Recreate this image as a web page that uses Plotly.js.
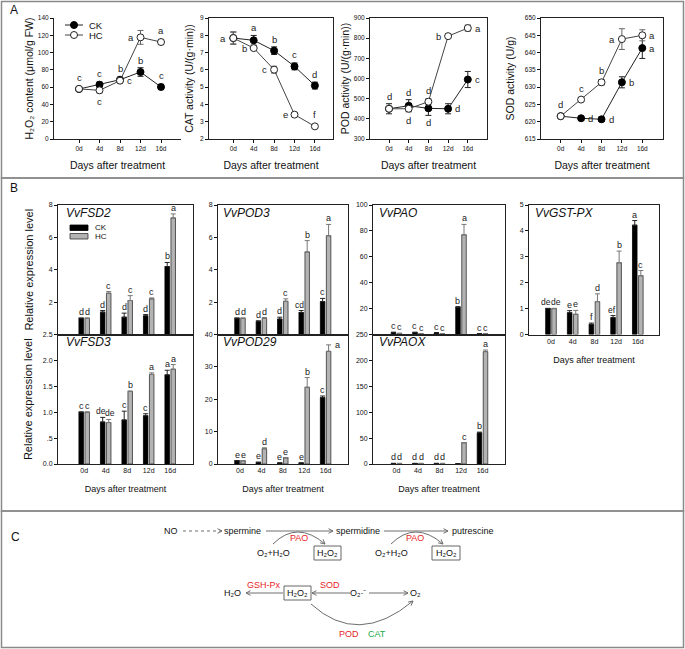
<!DOCTYPE html>
<html><head><meta charset="utf-8">
<script src="https://cdn.plot.ly/plotly-3.0.1.min.js"></script>
<style>body{margin:0;padding:0;background:#fff}#chart{width:685px;height:649px}</style>
</head><body><div id="chart"></div>
<script>
// ---------------- DATA ----------------
const days = ["0d","4d","8d","12d","16d"];
const groups = ["CK","HC"];

// Panel A
const h2o2_CK = [57.8, 62.9, 68.6, 77.5, 60.2];
const h2o2_CK_err = [2, 3, 3, 5, 3];
const h2o2_HC = [58.0, 56.3, 67.5, 117.6, 112.2];
const h2o2_HC_err = [2, 3, 3, 8, 3];
const h2o2_CK_sig = ["c","c","b","b","c"];
const h2o2_HC_sig = ["","c","c","a","a"];

const cat_CK = [7.84, 7.71, 7.11, 6.20, 5.09];
const cat_CK_err = [0.35, 0.28, 0.22, 0.2, 0.2];
const cat_HC = [7.84, 7.26, 6.01, 3.41, 2.73];
const cat_HC_err = [0.35, 0.1, 0.2, 0.1, 0.05];
const cat_CK_sig = ["","a","b","c","d"];
const cat_HC_sig = ["a","b","c","e","f"];

const pod_CK = [450, 465, 452, 450, 595];
const pod_CK_err = [25, 30, 35, 25, 40];
const pod_HC = [450, 450, 485, 810, 850];
const pod_HC_err = [10, 8, 15, 10, 15];
const pod_CK_sig = ["d","d","d","d","c"];
const pod_HC_sig = ["","d","d","b","a"];

const sod_CK = [621.6, 621.0, 620.7, 631.4, 641.3];
const sod_CK_err = [0.4, 0.6, 0.6, 1.6, 3.0];
const sod_HC = [621.6, 626.4, 631.4, 643.9, 645.0];
const sod_HC_err = [0.4, 0.5, 0.8, 3.0, 1.6];
const sod_CK_sig = ["","d","d","b","a"];
const sod_HC_sig = ["d","c","b","a","a"];

// Panel B (relative expression)
const fsd2_CK = [1.0, 1.38, 1.07, 1.15, 4.2];
const fsd2_CK_err = [0.02, 0.1, 0.25, 0.08, 0.25];
const fsd2_HC = [1.0, 2.55, 2.1, 2.2, 7.2];
const fsd2_HC_err = [0.02, 0.1, 0.3, 0.06, 0.25];
const fsd2_CK_sig = ["d","d","d","d","b"];
const fsd2_HC_sig = ["d","c","c","c","a"];

const fsd3_CK = [1.0, 0.81, 0.85, 0.93, 1.72];
const fsd3_CK_err = [0.005, 0.09, 0.17, 0.04, 0.09];
const fsd3_HC = [1.0, 0.80, 1.40, 1.73, 1.83];
const fsd3_HC_err = [0.005, 0.06, 0.01, 0.03, 0.09];
const fsd3_CK_sig = ["c","de","c","c","a"];
const fsd3_HC_sig = ["c","de","b","a","a"];

const pod3_CK = [1.0, 0.8, 0.95, 1.36, 2.03];
const pod3_CK_err = [0.02, 0.05, 0.12, 0.12, 0.2];
const pod3_HC = [1.0, 1.0, 2.05, 5.1, 6.1];
const pod3_HC_err = [0.02, 0.05, 0.15, 0.7, 0.7];
const pod3_CK_sig = ["d","d","d","cd","c"];
const pod3_HC_sig = ["d","d","c","b","a"];

const pod29_CK = [1.0, 0.5, 0.3, 0.3, 20.5];
const pod29_CK_err = [0.05, 0.05, 0.05, 0.05, 0.5];
const pod29_HC = [1.0, 4.7, 1.9, 23.7, 34.8];
const pod29_HC_err = [0.05, 0.3, 0.1, 3.0, 2.0];
const pod29_CK_sig = ["e","e","e","e","c"];
const pod29_HC_sig = ["e","d","e","b","a"];

const pao_CK = [1.5, 1.5, 1.2, 21, 0.5];
const pao_CK_err = [0.3, 0.3, 0.3, 0.5, 0.2];
const pao_HC = [0.8, 0.5, 0.4, 77, 0.5];
const pao_HC_err = [0.2, 0.2, 0.2, 8, 0.2];
const pao_CK_sig = ["c","c","c","b","c"];
const pao_HC_sig = ["c","c","c","a","c"];

const paox_CK = [1, 1, 1, 0.5, 60];
const paox_CK_err = [0.3, 0.3, 0.3, 0.2, 1.5];
const paox_HC = [1, 1, 1, 41, 217];
const paox_HC_err = [0.3, 0.3, 0.3, 0.5, 3];
const paox_CK_sig = ["d","d","d","","b"];
const paox_HC_sig = ["d","d","d","c","a"];

const gst_CK = [1.0, 0.84, 0.39, 0.65, 4.22];
const gst_CK_err = [0.01, 0.08, 0.05, 0.08, 0.18];
const gst_HC = [1.0, 0.78, 1.27, 2.77, 2.27];
const gst_HC_err = [0.01, 0.15, 0.3, 0.45, 0.2];
const gst_CK_sig = ["de","e","f","ef","a"];
const gst_HC_sig = ["de","e","d","b","c"];

// ---------------- LAYOUT HELPERS ----------------
const W = 685, H = 649;
const PX = x => x / W, PY = y => 1 - y / H;
const FONT = "Arial, 'Liberation Sans', Helvetica, sans-serif";
const idx = days.map((d, i) => i);

// subplot geometry (pixels): left, right, top, bottom, x of first category, category spacing
const geo = {
  1: {l:54, r:181, t:18, b:139, p0:79, s:20.5, yr:[0,140], tv:[0,20,40,60,80,100,120,140], box:false},
  2: {l:209, r:333, t:18, b:139, p0:233.3, s:20.4, yr:[2,9], tv:[2,3,4,5,6,7,8,9], box:true},
  3: {l:370, r:487, t:18, b:139, p0:389, s:19.7, yr:[300,900], tv:[300,400,500,600,700,800,900], box:true},
  4: {l:541, r:663, t:18, b:139, p0:560.7, s:20.4, yr:[615,650], tv:[615,620,625,630,635,640,645,650], box:true},
  5: {l:58, r:193, t:205, b:334.5, p0:84.2, s:21.5, yr:[0,8], tv:[2,4,6,8], box:true, top:true},
  6: {l:58, r:193, t:334.5, b:464, p0:84.2, s:21.5, yr:[0,2.5], tv:[0,0.5,1,1.5,2,2.5], tt:["0.0",".5","1.0","1.5","2.0","2.5"], box:true},
  7: {l:218, r:348, t:205, b:334.5, p0:240, s:21.4, yr:[0,8], tv:[2,4,6,8], box:true, top:true},
  8: {l:218, r:348, t:334.5, b:464, p0:240, s:21.4, yr:[0,40], tv:[0,10,20,30,40], box:true},
  9: {l:373, r:505, t:205, b:334.5, p0:396.5, s:21.5, yr:[0,100], tv:[20,40,60,80,100], box:true, top:true},
  10:{l:373, r:505, t:334.5, b:464, p0:396.5, s:21.5, yr:[0,250], tv:[0,50,100,150,200,250], box:true},
  11:{l:529, r:659, t:205, b:334.5, p0:551, s:21.7, yr:[0,5], tv:[0,1,2,3,4,5], box:true}
};

const layout = {
  width: W, height: H, margin: {l:0, r:0, t:0, b:0},
  paper_bgcolor: '#ffffff', plot_bgcolor: 'rgba(0,0,0,0)',
  showlegend: false, font: {family: FONT, color: '#111', size: 9},
  barmode: 'group', bargap: 0.44, bargroupgap: 0.25,
  shapes: [], annotations: []
};

Object.keys(geo).forEach(k => {
  const g = geo[k], n = +k;
  const xs = n === 1 ? '' : n, isA = n <= 4;
  layout['xaxis' + xs] = {
    domain: [PX(g.l), PX(g.r)], range: [(g.l - g.p0) / g.s, (g.r - g.p0) / g.s],
    anchor: 'y' + xs, tickvals: idx, ticktext: days,
    showticklabels: !g.top, ticks: isA ? 'outside' : '', ticklen: 3, tickcolor: '#111',
    tickfont: {family: FONT, size: isA ? 6.5 : 7, color: '#111'},
    showline: true, linecolor: '#222', linewidth: 1, mirror: g.box,
    showgrid: false, zeroline: false, fixedrange: true
  };
  layout['yaxis' + xs] = {
    domain: [PY(g.b), PY(g.t)], range: g.yr, anchor: 'x' + xs,
    tickvals: g.tv, ticktext: g.tt || g.tv.map(String),
    ticks: 'outside', ticklen: 3, tickcolor: '#111',
    tickfont: {family: FONT, size: isA ? 6.5 : 7, color: '#111'},
    showline: true, linecolor: '#222', linewidth: 1, mirror: g.box,
    showgrid: false, zeroline: false, fixedrange: true
  };
});

// axis titles
const xTitleA = {text: 'Days after treatment', font: {family: FONT, size: 10.5, color: '#111'}, standoff: 10};
['', 2, 3, 4].forEach(s => layout['xaxis' + s].title = xTitleA);
layout.yaxis.title = {text: 'H₂O₂ content (μmol/g FW)', font: {family: FONT, size: 10.5}, standoff: 2};
layout.yaxis2.title = {text: 'CAT activity (U/(g·min))', font: {family: FONT, size: 10.5}, standoff: 4};
layout.yaxis3.title = {text: 'POD activity (U/(g·min))', font: {family: FONT, size: 10.5}, standoff: 2};
layout.yaxis4.title = {text: 'SOD activity (U/g)', font: {family: FONT, size: 10.5}, standoff: 8};
const xTitleB = {text: 'Days after treatment', font: {family: FONT, size: 9, color: '#111'}, standoff: 12};
[6, 8, 10, 11].forEach(s => layout['xaxis' + s].title = xTitleB);
layout.yaxis5.title = {text: 'Relative expression level', font: {family: FONT, size: 11}, standoff: 12};
layout.yaxis6.title = {text: 'Relative expression level', font: {family: FONT, size: 11}, standoff: 8};

// ---------------- TRACES ----------------
const traces = [];
function lineTraces(n, ck, ckE, hc, hcE) {
  const xs = n === 1 ? '' : n;
  traces.push({x: idx, y: ck, type: 'scatter', mode: 'lines+markers', name: groups[0],
    xaxis: 'x' + xs, yaxis: 'y' + xs, cliponaxis: false,
    line: {color: '#222', width: 1}, marker: {color: '#000', size: 7, line: {color: '#000', width: 1}},
    error_y: {type: 'data', array: ckE, color: '#222', thickness: 1, width: 3}});
  traces.push({x: idx, y: hc, type: 'scatter', mode: 'lines+markers', name: groups[1],
    xaxis: 'x' + xs, yaxis: 'y' + xs, cliponaxis: false,
    line: {color: '#444', width: 1}, marker: {color: '#fff', size: 7, line: {color: '#222', width: 1}},
    error_y: {type: 'data', array: hcE, color: '#666', thickness: 1, width: 3}});
}
lineTraces(1, h2o2_CK, h2o2_CK_err, h2o2_HC, h2o2_HC_err);
lineTraces(2, cat_CK, cat_CK_err, cat_HC, cat_HC_err);
lineTraces(3, pod_CK, pod_CK_err, pod_HC, pod_HC_err);
lineTraces(4, sod_CK, sod_CK_err, sod_HC, sod_HC_err);

const zeros = [0, 0, 0, 0, 0];
function barTraces(n, ck, ckE, hc, hcE) {
  traces.push({x: idx, y: ck, type: 'bar', name: groups[0], xaxis: 'x' + n, yaxis: 'y' + n,
    marker: {color: '#000', line: {color: '#000', width: 0.8}},
    error_y: {type: 'data', symmetric: false, array: ckE, arrayminus: zeros, color: '#222', thickness: 1, width: 2.5}});
  traces.push({x: idx, y: hc, type: 'bar', name: groups[1], xaxis: 'x' + n, yaxis: 'y' + n,
    marker: {color: '#b3b3b3', line: {color: '#333', width: 0.8}},
    error_y: {type: 'data', symmetric: false, array: hcE, arrayminus: zeros, color: '#777', thickness: 1, width: 2.5}});
}
barTraces(5, fsd2_CK, fsd2_CK_err, fsd2_HC, fsd2_HC_err);
barTraces(6, fsd3_CK, fsd3_CK_err, fsd3_HC, fsd3_HC_err);
barTraces(7, pod3_CK, pod3_CK_err, pod3_HC, pod3_HC_err);
barTraces(8, pod29_CK, pod29_CK_err, pod29_HC, pod29_HC_err);
barTraces(9, pao_CK, pao_CK_err, pao_HC, pao_HC_err);
barTraces(10, paox_CK, paox_CK_err, paox_HC, paox_HC_err);
barTraces(11, gst_CK, gst_CK_err, gst_HC, gst_HC_err);

// ---------------- SIGNIFICANCE LETTERS ----------------
const ann = layout.annotations;
function letter(n, x, y, t, xanchor, yanchor, xshift, yshift, size) {
  if (!t) return;
  const xs = n === 1 ? '' : n;
  ann.push({xref: 'x' + xs, yref: 'y' + xs, x: x, y: y, text: t, showarrow: false,
    xanchor: xanchor, yanchor: yanchor, xshift: xshift || 0, yshift: yshift || 0,
    font: {family: FONT, size: size || 9.5, color: '#222'}});
}
function sigLine(n, vals, errs, sig, place) {
  const g = geo[n], upp = (g.yr[1] - g.yr[0]) / (g.b - g.t);
  vals.forEach((v, i) => {
    const p = place[i], e = Math.max(errs[i], 4 * upp);
    if (p === 'above') letter(n, i, v + e, sig[i], 'center', 'bottom', 0, 0);
    else if (p === 'below') letter(n, i, v - e, sig[i], 'center', 'top', 0, 0);
    else if (p === 'left') letter(n, i, v, sig[i], 'right', 'middle', -5, 0);
    else if (p === 'right') letter(n, i, v, sig[i], 'left', 'middle', 5, 0);
  });
}
const AB = ['above','above','above','above','above'];
sigLine(1, h2o2_CK, h2o2_CK_err, h2o2_CK_sig, AB);
sigLine(1, h2o2_HC, h2o2_HC_err, h2o2_HC_sig, ['', 'below', 'right', 'left', 'above']);
sigLine(2, cat_CK, cat_CK_err, cat_CK_sig, AB);
sigLine(2, cat_HC, cat_HC_err, cat_HC_sig, ['left', 'left', 'left', 'left', 'above']);
sigLine(3, pod_CK, pod_CK_err, pod_CK_sig, ['above', 'above', 'below', 'right', 'right']);
sigLine(3, pod_HC, pod_HC_err, pod_HC_sig, ['', 'below', 'above', 'left', 'right']);
sigLine(4, sod_CK, sod_CK_err, sod_CK_sig, ['', 'right', 'right', 'right', 'right']);
sigLine(4, sod_HC, sod_HC_err, sod_HC_sig, ['above', 'above', 'above', 'left', 'right']);

const off = 0.14;
function sigBars(n, vals, errs, sig, dir, place) {
  vals.forEach((v, i) => {
    const x = i + dir * off, y = v + errs[i];
    if (place && place[i] === 'right') letter(n, x, y, sig[i], 'left', 'middle', 4, 0, 9);
    else letter(n, x, y, sig[i], 'center', 'bottom', dir * (sig[i].length > 1 ? 1.5 : 0), -1, sig[i].length > 1 ? 8.5 : 9);
  });
}
sigBars(5, fsd2_CK, fsd2_CK_err, fsd2_CK_sig, -1); sigBars(5, fsd2_HC, fsd2_HC_err, fsd2_HC_sig, 1);
sigBars(6, fsd3_CK, fsd3_CK_err, fsd3_CK_sig, -1); sigBars(6, fsd3_HC, fsd3_HC_err, fsd3_HC_sig, 1);
sigBars(7, pod3_CK, pod3_CK_err, pod3_CK_sig, -1); sigBars(7, pod3_HC, pod3_HC_err, pod3_HC_sig, 1);
sigBars(8, pod29_CK, pod29_CK_err, pod29_CK_sig, -1);
sigBars(8, pod29_HC, pod29_HC_err, pod29_HC_sig, 1, ['', '', '', '', 'right']);
sigBars(9, pao_CK, pao_CK_err, pao_CK_sig, -1); sigBars(9, pao_HC, pao_HC_err, pao_HC_sig, 1);
sigBars(10, paox_CK, paox_CK_err, paox_CK_sig, -1); sigBars(10, paox_HC, paox_HC_err, paox_HC_sig, 1);
sigBars(11, gst_CK, gst_CK_err, gst_CK_sig, -1); sigBars(11, gst_HC, gst_HC_err, gst_HC_sig, 1);

// ---------------- PAPER TEXT / SHAPES ----------------
const shp = layout.shapes;
function ptext(x, y, t, opt) {
  opt = opt || {};
  ann.push({xref: 'paper', yref: 'paper', x: PX(x), y: PY(y), text: t, showarrow: false,
    xanchor: opt.xa || 'center', yanchor: opt.ya || 'middle',
    font: {family: FONT, size: opt.size || 9, color: opt.color || '#111'}});
}
function rect(x0, y0, x1, y1, line, fill, lw) {
  shp.push({type: 'rect', xref: 'paper', yref: 'paper', x0: PX(x0), x1: PX(x1), y0: PY(y0), y1: PY(y1),
    line: {color: line, width: lw === undefined ? 1 : lw}, fillcolor: fill || 'rgba(0,0,0,0)', layer: 'above'});
}
function pline(x0, y0, x1, y1, color, dash, w) {
  shp.push({type: 'line', xref: 'paper', yref: 'paper', x0: PX(x0), x1: PX(x1), y0: PY(y0), y1: PY(y1),
    line: {color: color || '#666', width: w || 1, dash: dash || 'solid'}});
}
function head(x1, y1, dx, dy, color) { // open V arrowhead at (x1,y1), direction (dx,dy)
  const L = Math.hypot(dx, dy), ux = dx / L, uy = dy / L, len = 4.5, w = 2.3;
  const bx = x1 - ux * len, by = y1 - uy * len;
  const p1 = [bx - uy * w, by + ux * w], p2 = [bx + uy * w, by - ux * w];
  shp.push({type: 'path', xref: 'paper', yref: 'paper',
    path: `M ${PX(p1[0])} ${PY(p1[1])} L ${PX(x1)} ${PY(y1)} L ${PX(p2[0])} ${PY(p2[1])}`,
    line: {color: color || '#666', width: 1}});
}
function arrow(x0, y0, x1, y1, color, dash) { // tail -> head
  pline(x0, y0, x1, y1, color, dash, 1);
  head(x1, y1, x1 - x0, y1 - y0, color);
}
function curve(x0, y0, cx, cy, x1, y1, color) {
  shp.push({type: 'path', xref: 'paper', yref: 'paper',
    path: `M ${PX(x0)} ${PY(y0)} Q ${PX(cx)} ${PY(cy)} ${PX(x1)} ${PY(y1)}`,
    line: {color: color || '#666', width: 1}});
  head(x1, y1, x1 - cx, y1 - cy, color);
}

// panel frames
rect(1.5, 1.5, 683.5, 178, '#8a8a8a', null, 1.5);
rect(1.5, 178, 683.5, 511, '#8a8a8a', null, 1.5);
rect(1.5, 511, 683.5, 647.5, '#8a8a8a', null, 1.5);
ptext(8, 10, 'A', {size: 12, xa: 'left'});
ptext(8, 188, 'B', {size: 12, xa: 'left'});
ptext(9, 537, 'C', {size: 12, xa: 'left'});

// legend panel A
pline(65, 25, 83, 25, '#222'); pline(65, 35, 83, 35, '#444');
shp.push({type: 'circle', xref: 'paper', yref: 'paper', x0: PX(70.5), x1: PX(77.5), y0: PY(28.5), y1: PY(21.5), fillcolor: '#000', line: {color: '#000', width: 1}});
shp.push({type: 'circle', xref: 'paper', yref: 'paper', x0: PX(70.5), x1: PX(77.5), y0: PY(38.5), y1: PY(31.5), fillcolor: '#fff', line: {color: '#222', width: 1}});
ptext(87, 25, groups[0], {xa: 'left', size: 9.5});
ptext(87, 35, groups[1], {xa: 'left', size: 9.5});

// legend panel B
rect(70, 225, 88, 230.5, '#000', '#000', 0.8);
rect(70, 233.5, 88, 239, '#333', '#b3b3b3', 0.8);
ptext(93, 227.8, groups[0], {xa: 'left', size: 8});
ptext(93, 236.7, groups[1], {xa: 'left', size: 8});

// gene names
[['VvFSD2', 64, 213], ['VvPOD3', 221, 213], ['VvPAO', 377, 213], ['VvGST-PX', 533, 213],
 ['VvFSD3', 64, 342], ['VvPOD29', 221, 342], ['VvPAOX', 377, 342]].forEach(a =>
  ptext(a[1], a[2], '<i>' + a[0] + '</i>', {xa: 'left', size: 12}));

// ---------------- PANEL C diagram ----------------
const red = '#e8251f', green = '#22a84a', g7 = '#6e6e6e';
const cs = 9;
ptext(171, 531, 'NO', {size: cs});
arrow(183, 531, 222, 531, g7, 'dot');
ptext(243, 531, 'spermine', {size: cs});
arrow(266, 531, 333, 531, g7);
ptext(358, 531, 'spermidine', {size: cs});
arrow(384, 531, 448, 531, g7);
ptext(473, 531, 'putrescine', {size: cs});

curve(273, 544, 297, 520, 325, 544, g7);
ptext(299, 538, 'PAO', {size: cs, color: red});
ptext(273, 553, 'O₂+H₂O', {size: cs});
rect(314, 546, 341, 560, '#666', null, 1);
ptext(327.5, 553, 'H₂O₂', {size: cs});

curve(391, 544, 415, 520, 443, 544, g7);
ptext(415, 538, 'PAO', {size: cs, color: red});
ptext(392, 553, 'O₂+H₂O', {size: cs});
rect(432, 546, 460, 560, '#666', null, 1);
ptext(446, 553, 'H₂O₂', {size: cs});

ptext(232, 593, 'H₂O', {size: cs});
arrow(283, 593, 246, 593, g7);
ptext(264, 585, 'GSH-Px', {size: cs, color: red});
rect(284, 586, 311, 600, '#666', null, 1);
ptext(297.5, 593, 'H₂O₂', {size: cs});
ptext(330, 585, 'SOD', {size: cs, color: red});
arrow(350, 593, 312, 593, g7);
ptext(358, 593, 'O₂·⁻', {size: cs});
arrow(369, 593, 408, 593, g7);
ptext(415, 593, 'O₂', {size: cs});
curve(311, 604, 358, 647, 413, 601, g7);
ptext(349, 634, 'POD', {size: cs, color: red});
ptext(377, 634, 'CAT', {size: cs, color: green});

Plotly.newPlot('chart', traces, layout, {staticPlot: true, displayModeBar: false});
</script>
</body></html>
